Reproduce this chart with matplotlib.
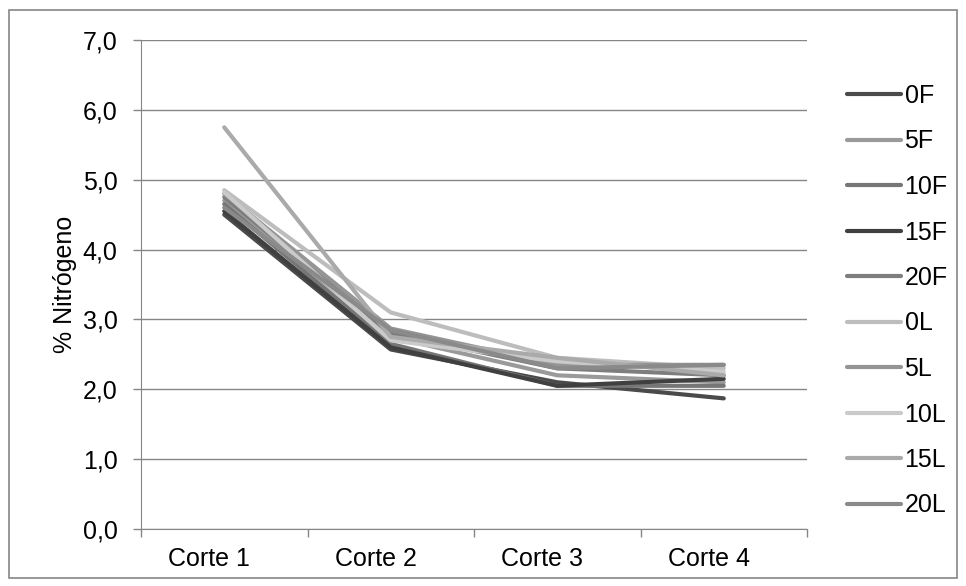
import numpy as np
import matplotlib
matplotlib.use("Agg")
import matplotlib.pyplot as plt
from matplotlib.patches import Rectangle
from matplotlib.transforms import ScaledTranslation

plt.rcParams['font.family'] = ['Liberation Sans', 'DejaVu Sans']

# datos
cortes = ["Corte 1", "Corte 2", "Corte 3", "Corte 4"]
series = ["0F", "5F", "10F", "15F", "20F", "0L", "5L", "10L", "15L", "20L"]
v_0F = [4.50, 2.57, 2.10, 1.87]
v_5F = [4.70, 2.75, 2.20, 2.10]
v_10F = [4.65, 2.65, 2.05, 2.05]
v_15F = [4.55, 2.60, 2.05, 2.15]
v_20F = [4.75, 2.80, 2.30, 2.20]
v_0L = [4.85, 3.10, 2.45, 2.30]
v_5L = [4.80, 2.87, 2.35, 2.35]
v_10L = [4.82, 2.70, 2.40, 2.25]
v_15L = [5.75, 2.75, 2.45, 2.20]
v_20L = [4.60, 2.85, 2.30, 2.35]
valores = [v_0F, v_5F, v_10F, v_15F, v_20F, v_0L, v_5L, v_10L, v_15L, v_20L]
colores = ["#4a4a4a", "#9a9a9a", "#767676", "#404040", "#7e7e7e",
           "#bdbdbd", "#959595", "#cacaca", "#aaaaaa", "#8a8a8a"]

fig = plt.figure(figsize=(9.66, 5.86), dpi=100)
ax = fig.add_axes([141/966, 57/586, 666/966, 489/586])

x = np.arange(len(cortes))
for nombre, v, c in zip(series, valores, colores):
    ax.plot(x, v, color=c, lw=3.0, label=nombre, solid_capstyle='round',
            solid_joinstyle='round')

gris = "#868686"
ax.set_ylim(0, 7)
ax.set_yticks(np.arange(0, 7.1, 1))
ax.set_yticklabels([f"{t:.1f}".replace(".", ",") for t in np.arange(0, 7.1, 1)])
ax.yaxis.grid(True, color=gris, lw=1)
ax.set_axisbelow(True)
ax.set_xlim(-0.5, 3.5)
ax.set_xticks(x)
ax.set_xticklabels(cortes)
ax.set_xticks(np.arange(-0.5, 3.6, 1), minor=True)
ax.tick_params(axis='x', which='major', length=0, pad=13, labelsize=18)
ax.tick_params(axis='x', which='minor', length=6, color=gris, width=1)
ax.tick_params(axis='y', length=6, color=gris, width=1, pad=11, labelsize=18)
for lab in ax.get_xticklabels():
    lab.set_transform(lab.get_transform() + ScaledTranslation(-0.15, 0, fig.dpi_scale_trans))
for s in ["top", "right"]:
    ax.spines[s].set_visible(False)
for s in ["left", "bottom"]:
    ax.spines[s].set_color(gris)
ax.set_ylabel("% Nitrógeno", fontsize=18, labelpad=4)

fig.legend(loc='upper left', bbox_to_anchor=(847/966, 1 - 84/586), frameon=False,
           fontsize=18, handlelength=2.15, handletextpad=0.15, labelspacing=0.86,
           borderpad=0, borderaxespad=0)

fig.patches.append(Rectangle((9/966, 8/586), 948/966, 568/586, transform=fig.transFigure,
                             fill=False, edgecolor=gris, lw=1.2))

fig.savefig("out.png", dpi=100)
